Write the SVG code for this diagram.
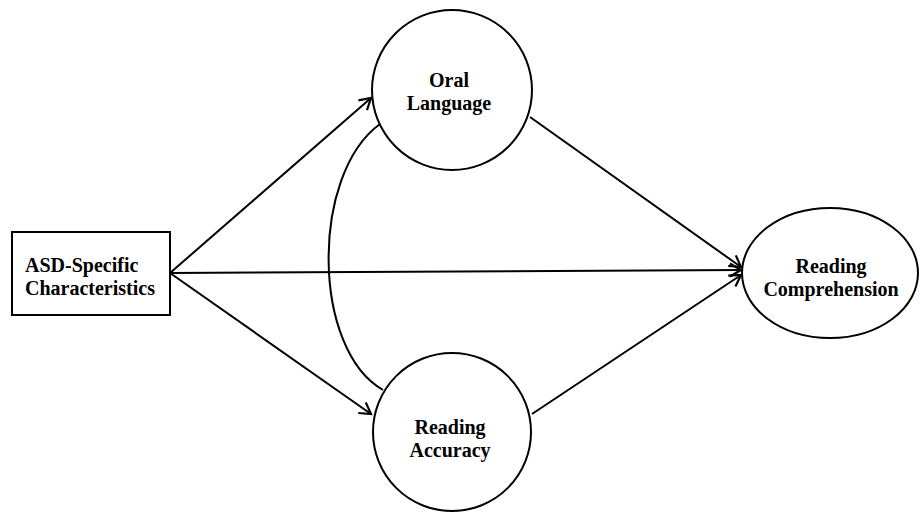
<svg xmlns="http://www.w3.org/2000/svg" width="922" height="512" viewBox="0 0 922 512">
<style>
.shape{fill:#fff;stroke:#000;stroke-width:2}
.lbl{font-family:"Liberation Serif",serif;font-weight:bold;font-size:20px;text-anchor:middle;fill:#000}
.conn{fill:none;stroke:#000;stroke-width:2}
</style>
<defs>
<marker id="arr" markerWidth="16" markerHeight="16" refX="12" refY="8" orient="auto" markerUnits="userSpaceOnUse">
<path d="M1,1.5 L12,8 L1,14.5" fill="none" stroke="#000" stroke-width="2.2"/>
</marker>
</defs>
<g id="connectors">
<path class="conn" d="M170,273 L371,98" marker-end="url(#arr)"/>
<path class="conn" d="M170,273 L371,414" marker-end="url(#arr)"/>
<path class="conn" d="M170,273 L741,270" marker-end="url(#arr)"/>
<path class="conn" d="M530,117 L741,267" marker-end="url(#arr)"/>
<path class="conn" d="M532,414 L741,275" marker-end="url(#arr)"/>
<path class="conn" d="M380,124 C310,175 312,350 383,390"/>
</g>
<g id="asd">
<rect class="shape" x="12" y="232" width="158" height="83"/>
<text class="lbl" x="25" y="272" style="text-anchor:start">ASD-Specific</text>
<text class="lbl" x="25" y="295" style="text-anchor:start">Characteristics</text>
</g>
<g id="oral">
<circle class="shape" cx="452" cy="90" r="80"/>
<text class="lbl" x="449" y="87">Oral</text>
<text class="lbl" x="449" y="110">Language</text>
</g>
<g id="accuracy">
<circle class="shape" cx="452" cy="432" r="79"/>
<text class="lbl" x="450" y="434">Reading</text>
<text class="lbl" x="450" y="457">Accuracy</text>
</g>
<g id="comprehension">
<ellipse class="shape" cx="830" cy="273" rx="88" ry="65"/>
<text class="lbl" x="831" y="273">Reading</text>
<text class="lbl" x="831" y="296">Comprehension</text>
</g>
</svg>
